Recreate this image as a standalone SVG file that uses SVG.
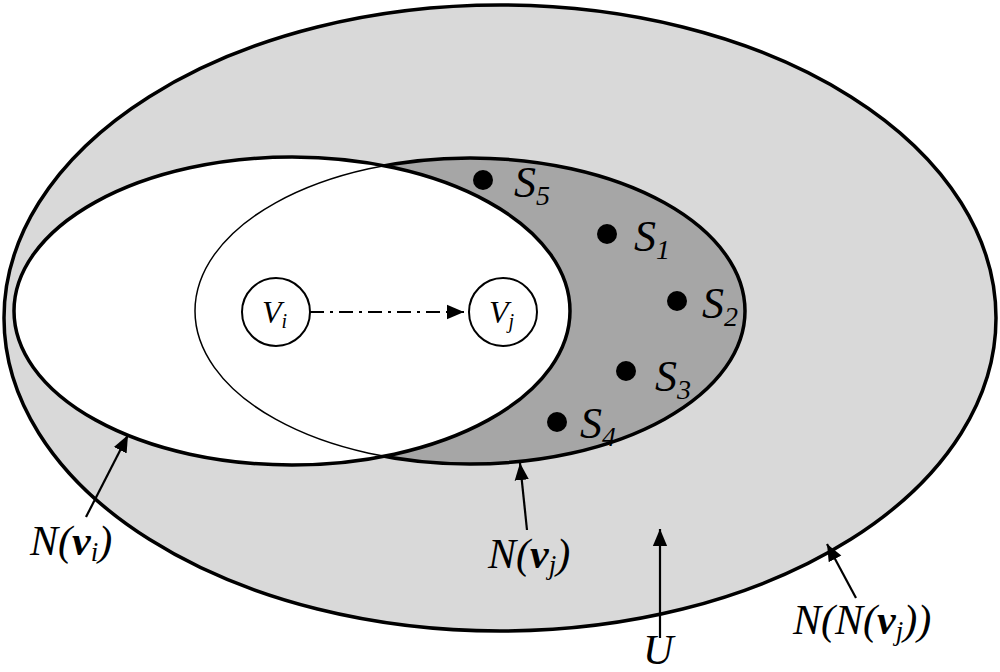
<svg xmlns="http://www.w3.org/2000/svg" width="1000" height="672" viewBox="0 0 1000 672">
<style>
.thick{stroke:#000;stroke-width:3.5}
.thin{fill:none;stroke:#000;stroke-width:1.5}
.ar{stroke:#000;stroke-width:2.2;fill:none;marker-end:url(#ah)}
.f{font-family:'Liberation Serif','Times New Roman',serif;font-style:italic}
</style>
<defs>
<marker id="ah" viewBox="0 0 10 10" refX="10" refY="5" markerWidth="17" markerHeight="17" markerUnits="userSpaceOnUse" orient="auto"><path d="M0,0.8L10,5L0,9.2z" fill="#000"/></marker>
</defs>
<g id="U-set"><ellipse cx="500" cy="318" rx="496" ry="313" fill="#d9d9d9" class="thick"/></g>
<g id="Nvj"><ellipse cx="470" cy="311" rx="275" ry="153" fill="#a6a6a6" class="thick"/></g>
<g id="Nvi"><ellipse cx="292" cy="311" rx="278" ry="154" fill="#fff" class="thick"/></g>
<g id="Nvj-inner"><ellipse cx="470" cy="311" rx="275" ry="153" class="thin"/></g>
<g class="f">
<g id="Vi"><circle cx="276" cy="312" r="34" fill="#fff" stroke="#000" stroke-width="2"/><text x="262" y="323" font-size="32">V<tspan font-size="20" dy="5">i</tspan></text></g>
<g id="Vj"><circle cx="503" cy="312" r="34" fill="#fff" stroke="#000" stroke-width="2"/><text x="489" y="323" font-size="32">V<tspan font-size="20" dy="5">j</tspan></text></g>
<g id="points">
<circle cx="483" cy="180" r="10"/><text x="514" y="197" font-size="44">S<tspan font-size="28" dy="8">5</tspan></text>
<circle cx="607" cy="234" r="10"/><text x="634" y="251" font-size="44">S<tspan font-size="28" dy="8">1</tspan></text>
<circle cx="677" cy="301" r="10"/><text x="702" y="318" font-size="44">S<tspan font-size="28" dy="8">2</tspan></text>
<circle cx="626" cy="371" r="10"/><text x="655" y="391" font-size="44">S<tspan font-size="28" dy="8">3</tspan></text>
<circle cx="557" cy="422" r="10"/><text x="580" y="438" font-size="44">S<tspan font-size="28" dy="8">4</tspan></text>
</g>
</g>
<g id="connectors">
<line x1="310" y1="312" x2="464" y2="312" stroke="#000" stroke-width="2" stroke-dasharray="14,6,3,6" marker-end="url(#ah)"/>
<line x1="86" y1="517" x2="128" y2="435" class="ar"/>
<line x1="527" y1="530" x2="520" y2="463" class="ar"/>
<line x1="660" y1="638" x2="660" y2="529" class="ar"/>
<line x1="856" y1="598" x2="827" y2="544" class="ar"/>
</g>
<g id="labels" class="f">
<text x="30" y="555" font-size="42">N(<tspan font-weight="bold">v</tspan><tspan font-size="27" dy="6">i</tspan><tspan dy="-6">)</tspan></text>
<text x="488" y="568" font-size="42">N(<tspan font-weight="bold">v</tspan><tspan font-size="27" dy="6">j</tspan><tspan dy="-6">)</tspan></text>
<text x="643" y="664" font-size="42">U</text>
<text x="793" y="634" font-size="42">N(N(<tspan font-weight="bold">v</tspan><tspan font-size="27" dy="6">j</tspan><tspan dy="-6">))</tspan></text>
</g>
</svg>
